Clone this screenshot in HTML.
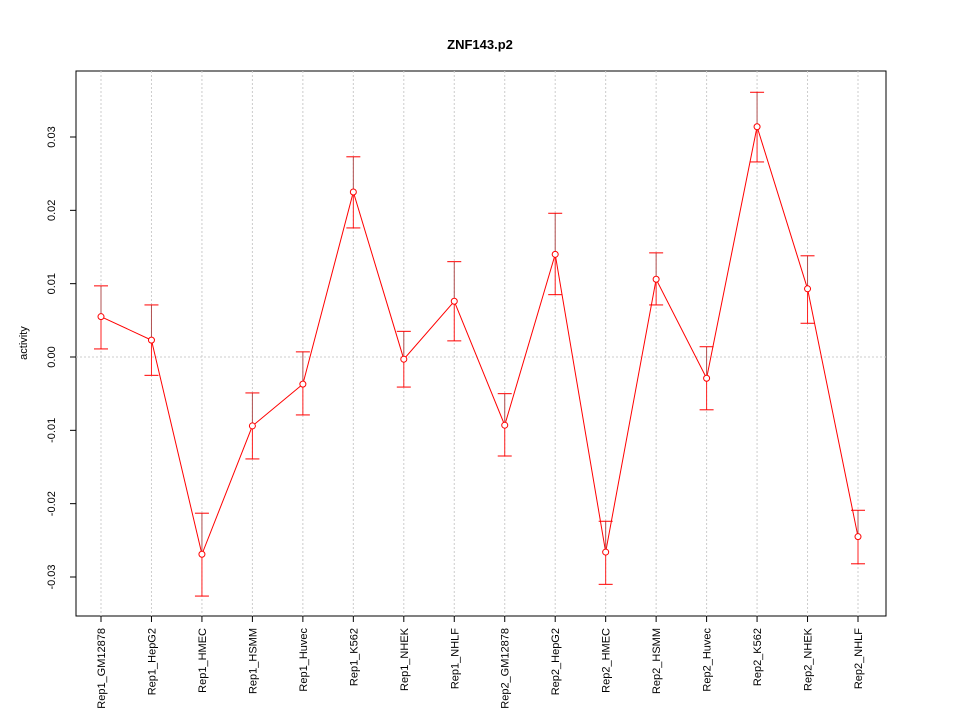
<!DOCTYPE html>
<html><head><meta charset="utf-8"><style>body{margin:0;background:#fff}svg{display:block;font-family:"Liberation Sans",sans-serif}</style></head>
<body>
<svg id="c" width="960" height="720">
<text x="480" y="49" text-anchor="middle" font-size="13" font-weight="bold">ZNF143.p2</text>
<text transform="translate(27,343) rotate(-90)" text-anchor="middle" font-size="11">activity</text>
<rect x="76" y="71" width="810" height="545" fill="none" stroke="#000"/>
</svg>
<script>
const categories=["Rep1_GM12878","Rep1_HepG2","Rep1_HMEC","Rep1_HSMM","Rep1_Huvec","Rep1_K562","Rep1_NHEK","Rep1_NHLF","Rep2_GM12878","Rep2_HepG2","Rep2_HMEC","Rep2_HSMM","Rep2_Huvec","Rep2_K562","Rep2_NHEK","Rep2_NHLF"];
const values=[0.0055,0.0023,-0.0269,-0.0094,-0.0037,0.0225,-0.0003,0.0076,-0.0093,0.0140,-0.0266,0.0106,-0.0029,0.0314,0.0093,-0.0245];
const upper=[0.0097,0.0071,-0.0213,-0.0049,0.0007,0.0273,0.0035,0.0130,-0.0050,0.0196,-0.0224,0.0142,0.0014,0.0361,0.0138,-0.0209];
const lower=[0.0011,-0.0025,-0.0326,-0.0139,-0.0079,0.0176,-0.0041,0.0022,-0.0135,0.0085,-0.0310,0.0071,-0.0072,0.0266,0.0046,-0.0282];
const yTicks=[-0.03,-0.02,-0.01,0,0.01,0.02,0.03];
const yTickLabels=["-0.03","-0.02","-0.01","0.00","0.01","0.02","0.03"];
const svg=document.getElementById('c');const NS="http://www.w3.org/2000/svg";
const xs=i=>101+i*(858-101)/(categories.length-1);
const ys=v=>357-v*7333.3;
function mk(t,a,p){const e=document.createElementNS(NS,t);for(const k in a)e.setAttribute(k,a[k]);(p||svg).appendChild(e);return e;}
yTicks.forEach((v,i)=>{
 const l=mk('line',{x1:70,x2:76,y1:ys(v),y2:ys(v),stroke:'#000'});
 
 
 const t=mk('text',{transform:`translate(55,${ys(v)}) rotate(-90)`,'text-anchor':'middle','font-size':11});
 t.textContent=yTickLabels[i];
 
 
});
const g0=mk('line',{x1:76,x2:886,y1:ys(0),y2:ys(0),stroke:'#ccc','stroke-dasharray':'2,2'});


categories.forEach((c,i)=>{
 const x=xs(i);
 const g=mk('line',{x1:x,x2:x,y1:71,y2:616,stroke:'#ccc','stroke-dasharray':'2,2'});
 
 
 const tk=mk('line',{x1:x,x2:x,y1:616,y2:622,stroke:'#000'});
 
 
 const t=mk('text',{transform:`translate(${x+4},628) rotate(-90)`,'text-anchor':'end','font-size':11});
 t.textContent=c;
 
 
});
const pts=values.map((v,i)=>xs(i)+','+ys(v)).join(' ');
const pl=mk('polyline',{points:pts,fill:'none',stroke:'#ff0000','stroke-width':1});


values.forEach((v,i)=>{
 const x=xs(i);
 const eb=mk('g',{});
 
 
 mk('line',{x1:x,x2:x,y1:ys(upper[i]),y2:ys(v),stroke:'#b05050'},eb);
 mk('line',{x1:x,x2:x,y1:ys(v),y2:ys(lower[i]),stroke:'#ff2020'},eb);
 mk('line',{x1:x-7,x2:x+7,y1:ys(upper[i]),y2:ys(upper[i]),stroke:'#ff0000'},eb);
 mk('line',{x1:x-7,x2:x+7,y1:ys(lower[i]),y2:ys(lower[i]),stroke:'#ff0000'},eb);
 const p=mk('circle',{cx:x,cy:ys(v),r:3,fill:'#fff',stroke:'#ff0000'});
 
 
});
</script>
</body></html>
